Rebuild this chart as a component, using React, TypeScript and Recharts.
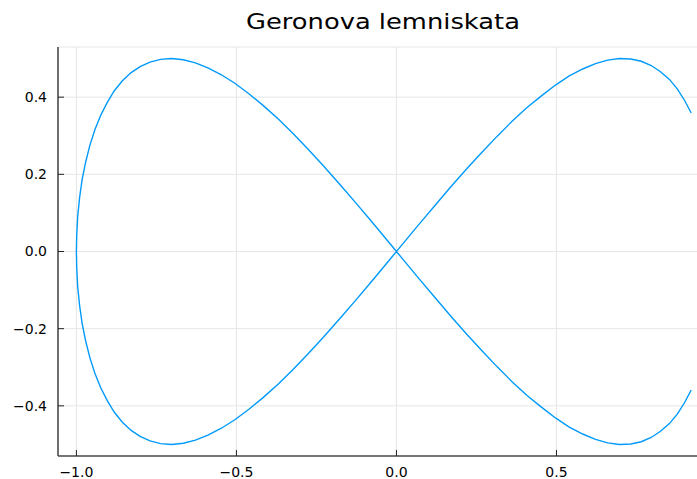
import { LineChart, Line, XAxis, YAxis, CartesianGrid } from 'recharts'

// Curve samples, in drawing order:
// top-right end -> origin -> bottom-left hump -> x=-1 -> top-left hump -> origin -> bottom-right end
const xValues = [
  0.921, 0.900, 0.878, 0.853, 0.825, 0.796, 0.765, 0.732, 0.697, 0.660, 0.622, 0.582, 0.540, 0.498,
  0.454, 0.408, 0.362, 0.315, 0.268, 0.219, 0.170, 0.121, 0.071, 0.021, -0.029, -0.079, -0.129,
  -0.178, -0.227, -0.276, -0.323, -0.370, -0.416, -0.461, -0.505, -0.547, -0.589, -0.628, -0.666,
  -0.703, -0.737, -0.770, -0.801, -0.830, -0.857, -0.882, -0.904, -0.924, -0.942, -0.958, -0.971,
  -0.982, -0.990, -0.996, -0.999, -1.0,
  -0.999, -0.996, -0.990, -0.982, -0.971, -0.958, -0.942, -0.924, -0.904, -0.882, -0.857, -0.830,
  -0.801, -0.770, -0.737, -0.703, -0.666, -0.628, -0.589, -0.547, -0.505, -0.461, -0.416, -0.370,
  -0.323, -0.276, -0.227, -0.178, -0.129, -0.079, -0.029, 0.021, 0.071, 0.121, 0.170, 0.219, 0.268,
  0.315, 0.362, 0.408, 0.454, 0.498, 0.540, 0.582, 0.622, 0.660, 0.697, 0.732, 0.765, 0.796, 0.825,
  0.853, 0.878, 0.900, 0.921,
]
const yValues = [
  0.359, 0.392, 0.421, 0.446, 0.466, 0.482, 0.493, 0.499, 0.500, 0.496, 0.487, 0.473, 0.455, 0.432,
  0.404, 0.373, 0.338, 0.299, 0.258, 0.214, 0.168, 0.120, 0.071, 0.021, -0.029, -0.079, -0.128,
  -0.175, -0.221, -0.265, -0.306, -0.344, -0.378, -0.409, -0.436, -0.458, -0.476, -0.489, -0.497,
  -0.500, -0.498, -0.491, -0.479, -0.463, -0.442, -0.416, -0.386, -0.353, -0.316, -0.275, -0.232,
  -0.187, -0.140, -0.091, -0.042, 0.0,
  0.042, 0.091, 0.140, 0.187, 0.232, 0.275, 0.316, 0.353, 0.386, 0.416, 0.442, 0.463,
  0.479, 0.491, 0.498, 0.500, 0.497, 0.489, 0.476, 0.458, 0.436, 0.409, 0.378, 0.344,
  0.306, 0.265, 0.221, 0.175, 0.128, 0.079, 0.029, -0.021, -0.071, -0.120, -0.168, -0.214, -0.258,
  -0.299, -0.338, -0.373, -0.404, -0.432, -0.455, -0.473, -0.487, -0.496, -0.500, -0.499, -0.493, -0.482, -0.466,
  -0.446, -0.421, -0.392, -0.359,
]
const xTicks = [-1.0, -0.5, 0.0, 0.5]
const yTicks = [-0.4, -0.2, 0.0, 0.2, 0.4]

const data = xValues.map((x, i) => ({ x, y: yValues[i] }))

const FONT = '"DejaVu Sans", sans-serif'
const fmt = (v: number) => v.toFixed(1).replace('-', '\u2212')

export default function App() {
  return (
    <div style={{ position: 'absolute', left: 0, top: 0, width: 697, height: 479, overflow: 'hidden', background: '#fff', fontFamily: FONT }}>
      <div
        style={{
          position: 'absolute',
          left: 0,
          top: 11,
          width: 766,
          textAlign: 'center',
          fontSize: 22,
          lineHeight: '22px',
          color: '#000',
          transform: 'scaleX(1.17)',
          transformOrigin: '383px 0',
        }}
      >
        Geronova lemniskata
      </div>
      <LineChart width={708} height={479} data={data} margin={{ top: 47, right: 0, bottom: 0, left: 0 }}>
        <CartesianGrid stroke="#e6e6e6" />
        <XAxis
          type="number"
          dataKey="x"
          domain={[-1.0575, 0.9735]}
          allowDataOverflow
          ticks={xTicks}
          tickFormatter={fmt}
          height={23}
          tickSize={-6}
          tickMargin={17}
          axisLine={{ stroke: '#4d4d4d', strokeWidth: 1.6 }}
          tickLine={{ stroke: '#222' }}
          tick={{ fill: '#000', fontSize: 14, fontFamily: FONT }}
        />
        <YAxis
          type="number"
          dataKey="y"
          domain={[-0.53, 0.53]}
          allowDataOverflow
          ticks={yTicks}
          tickFormatter={fmt}
          width={58}
          tickSize={-6}
          tickMargin={17}
          axisLine={{ stroke: '#4d4d4d', strokeWidth: 1.6 }}
          tickLine={{ stroke: '#222' }}
          tick={{ fill: '#000', fontSize: 14, fontFamily: FONT }}
        />
        <Line type="linear" dataKey="y" stroke="#009AFA" strokeWidth={1.4} dot={false} isAnimationActive={false} />
      </LineChart>
    </div>
  )
}
